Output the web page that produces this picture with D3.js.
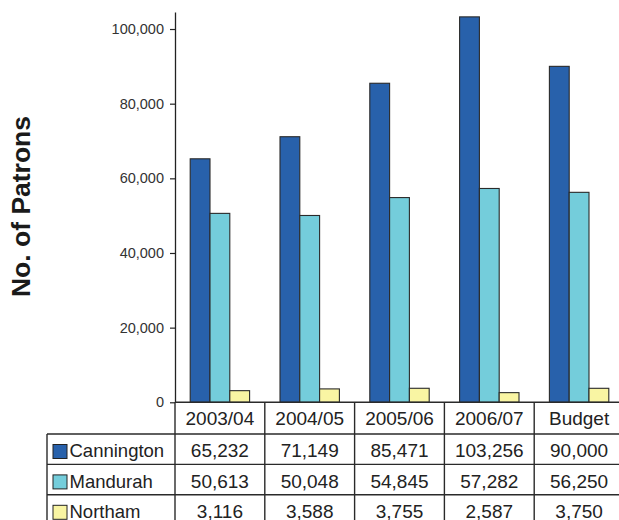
<!DOCTYPE html>
<html>
<head>
<meta charset="utf-8">
<script src="https://cdn.jsdelivr.net/npm/d3@7"></script>
<style>
  html, body { margin: 0; padding: 0; background: #fff; }
  svg { display: block; font-family: "Liberation Sans", Arial, sans-serif; }
</style>
</head>
<body>
<svg id="chart" width="619" height="520"></svg>
<script>
// Patron numbers per venue and financial year
const categories = ["2003/04", "2004/05", "2005/06", "2006/07", "Budget"];
const seriesNames = ["Cannington", "Mandurah", "Northam"];
const cannington = [65232, 71149, 85471, 103256, 90000];
const mandurah = [50613, 50048, 54845, 57282, 56250];
const northam = [3116, 3588, 3755, 2587, 3750];
const yTicks = [0, 20000, 40000, 60000, 80000, 100000];
const seriesColors = ["#2861ab", "#74cddb", "#f9f5a3"];

const series = [cannington, mandurah, northam];

const svg = d3.select("#chart");
const fmt = d3.format(",");

// Layout
const plotLeft = 175, plotRight = 624;
const plotTop = 12, plotBottom = 402.3;
const rowH = 30.4;
const headerBottom = 434;
const tableLeft = 47;

const x0 = d3.scaleBand().domain(categories).range([plotLeft, plotRight]).paddingInner(0).paddingOuter(0);
const x1 = d3.scaleBand().domain(seriesNames).range([15.2, x0.bandwidth() - 15.2]).padding(0);
const y = d3.scaleLinear().domain([0, 104560]).range([plotBottom, plotTop]);
const color = d3.scaleOrdinal().domain(seriesNames).range(seriesColors);

// Y axis
const yAxis = d3.axisLeft(y).tickValues(yTicks).tickFormat(fmt).tickSize(5).tickSizeOuter(0).tickPadding(6);
const gy = svg.append("g").attr("transform", `translate(${plotLeft},0)`).call(yAxis);
gy.select(".domain").attr("stroke", "#222").attr("stroke-width", 1.3);
gy.selectAll(".tick line").attr("stroke", "#222").attr("stroke-width", 1.2);
gy.selectAll(".tick text").attr("fill", "#333").attr("font-size", "14.5px")
  .attr("font-family", "'Liberation Sans', Arial, sans-serif");

// Axis title
svg.append("text")
  .attr("transform", "translate(30,206.5) rotate(-90)")
  .attr("text-anchor", "middle")
  .attr("font-size", "26.5px")
  .attr("font-weight", "bold")
  .attr("fill", "#1a1a1a")
  .text("No. of Patrons");

// Bars
const groups = svg.append("g").selectAll("g")
  .data(categories)
  .join("g")
  .attr("transform", d => `translate(${x0(d)},0)`);

groups.selectAll("rect")
  .data((c, i) => seriesNames.map((s, k) => ({ s, v: series[k][i] })))
  .join("rect")
  .attr("x", d => x1(d.s))
  .attr("width", x1.bandwidth())
  .attr("y", d => y(d.v))
  .attr("height", d => y(0) - y(d.v))
  .attr("fill", d => color(d.s))
  .attr("stroke", "#2a2a2a")
  .attr("stroke-width", 1.1);

// Data table
const table = svg.append("g");
const lineColor = "#2a2a2a";
const lw = 1.4;

// horizontal rules
table.append("line").attr("x1", plotLeft).attr("x2", plotRight).attr("y1", plotBottom).attr("y2", plotBottom)
  .attr("stroke", lineColor).attr("stroke-width", lw);
for (let r = 0; r < 3; r++) {
  const yy = headerBottom + r * rowH;
  table.append("line").attr("x1", tableLeft).attr("x2", plotRight).attr("y1", yy).attr("y2", yy)
    .attr("stroke", lineColor).attr("stroke-width", lw);
}
// vertical rules
table.append("line").attr("x1", tableLeft).attr("x2", tableLeft).attr("y1", headerBottom).attr("y2", 530)
  .attr("stroke", lineColor).attr("stroke-width", lw);
categories.forEach(c => {
  table.append("line").attr("x1", x0(c)).attr("x2", x0(c)).attr("y1", plotBottom).attr("y2", 530)
    .attr("stroke", lineColor).attr("stroke-width", lw);
});
table.append("line").attr("x1", plotRight).attr("x2", plotRight).attr("y1", plotBottom).attr("y2", 530)
  .attr("stroke", lineColor).attr("stroke-width", lw);

// header labels
table.selectAll("text.cat")
  .data(categories)
  .join("text")
  .attr("class", "cat")
  .attr("x", d => x0(d) + x0.bandwidth() / 2)
  .attr("y", 424.5)
  .attr("text-anchor", "middle")
  .attr("font-size", "19px")
  .attr("fill", "#222")
  .text(d => d);

// series rows
seriesNames.forEach((s, k) => {
  const top = headerBottom + k * rowH;
  const base = top + 23.3;
  table.append("rect")
    .attr("x", 53).attr("y", top + 10.5)
    .attr("width", 14).attr("height", 14)
    .attr("fill", color(s)).attr("stroke", "#222").attr("stroke-width", 1);
  table.append("text")
    .attr("x", 69.5).attr("y", base)
    .attr("font-size", "18.5px").attr("fill", "#222")
    .text(s);
  table.selectAll(null)
    .data(series[k])
    .join("text")
    .attr("x", (d, i) => x0(categories[i]) + x0.bandwidth() / 2)
    .attr("y", base)
    .attr("text-anchor", "middle")
    .attr("font-size", "19px")
    .attr("fill", "#222")
    .text(d => fmt(d));
});
</script>
</body>
</html>
